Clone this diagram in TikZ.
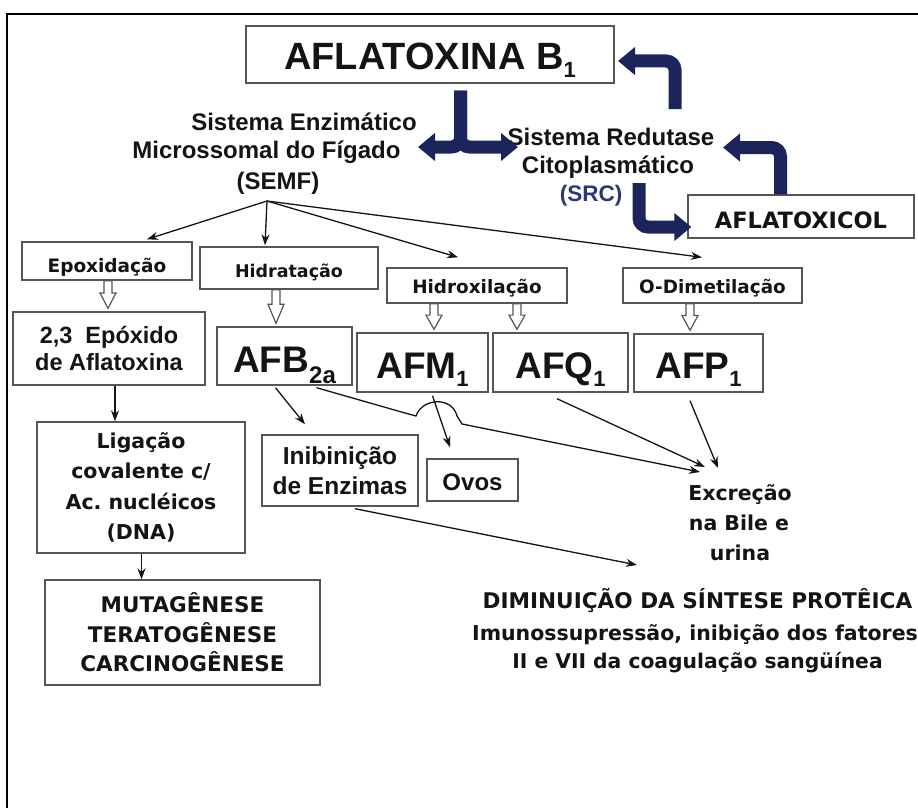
\documentclass[tikz,border=0pt]{standalone}
\usepackage{fontspec}
\setmainfont{Liberation Sans}
\newfontfamily\dv{DejaVu Sans}
\usetikzlibrary{arrows.meta,calc}
\definecolor{navy}{RGB}{28,36,92}
\definecolor{srcblue}{RGB}{45,55,120}
\definecolor{boxgray}{RGB}{85,85,85}
\definecolor{ink}{RGB}{20,20,20}
\newcommand\fsz[2]{\fontsize{#1}{#2}\selectfont}
\newcommand\subx[1]{\raisebox{-8pt}{\fontsize{22}{22}\selectfont #1}}
\newcommand\hollowdown[3]{%
  \path[hollow] let \p1=(#2), \p2=(#3), \n1={0.6*(\y1-\y2)} in
    ({#1pt-4pt},\y1) -- ({#1pt+4pt},\y1) -- ({#1pt+4pt},{\y2+\n1}) -- ({#1pt+8pt},{\y2+\n1})
    -- ({#1pt},{\y2+3pt}) -- ({#1pt-8pt},{\y2+\n1}) -- ({#1pt-4pt},{\y2+\n1}) -- cycle;}
\begin{document}
\begin{tikzpicture}[x=1pt,y=-1pt,
  box/.style={draw=boxgray, line width=1.4pt, fill=white, inner sep=0pt, text=ink},
  lbl/.style={inner sep=0pt, anchor=base, text=ink},
  conn/.style={draw=ink, line width=1.3pt, -{Stealth[length=11pt,width=8pt]}},
  navyarr/.style={draw=navy, line width=13pt, rounded corners=9pt, -{Triangle[length=17pt,width=27pt]}},
  hollow/.style={draw=boxgray, line width=1.2pt, fill=white},
]
\useasboundingbox (0,0) rectangle (918,808);
% frame
\draw[line width=2.5pt] (7,808) -- (7,14) -- (918,14);

% top box
\node[box, minimum width=368pt, minimum height=57pt, text height=31pt, text depth=0pt,
  font={\bfseries\fsz{38}{38}}] (b1) at (430,54.5) {AFLATOXINA B\subx{1}};

% side texts
\node[lbl, font={\bfseries\fsz{24}{24}}] (semf1) at (304,130) {Sistema Enzimático};
\node[lbl, font={\bfseries\fsz{24}{24}}] (semf2) at (266.5,158) {Microssomal do Fígado};
\node[lbl, font={\bfseries\fsz{24}{24}}] (semf3) at (278,189) {(SEMF)};
\node[lbl, font={\bfseries\fsz{24}{24}}] (src1) at (611,145) {Sistema Redutase};
\node[lbl, font={\bfseries\fsz{24}{24}}] (src2) at (608,173) {Citoplasmático};
\node[lbl, text=srcblue, font={\bfseries\fsz{22.5}{22.5}}] (src3) at (591,201) {(SRC)};

\node[box, minimum width=226pt, minimum height=43pt, text height=23pt, text depth=0pt,
  font={\bfseries\dv\fsz{22.5}{22.5}}] (toxicol) at (801,216.5) {AFLATOXICOL};

% navy arrows
\coordinate (semfin) at (418,147);
\coordinate (srcin) at (518,147);
\coordinate (b1in) at (618,61);
\coordinate (retst) at (675,109);
\coordinate (srcin2) at (723,147.5);
\coordinate (srcout) at (639,183);
\draw[navyarr] ([xshift=30.5pt,yshift=-7pt]b1.south) |- (semfin);
\draw[navyarr] ([xshift=30.5pt,yshift=-7pt]b1.south) |- (srcin);
\draw[navyarr] (retst) |- (b1in);
\draw[navyarr] ([xshift=-20.5pt]toxicol.north) |- (srcin2);
\draw[navyarr] (srcout) |- ([xshift=4pt,yshift=-10.5pt]toxicol.west);

% process boxes
\node[box, minimum width=170pt, minimum height=38pt, text height=22pt, text depth=0pt,
  font={\bfseries\dv\fsz{18.5}{18.5}}] (epox) at (107,261) {Epoxidação};
\node[box, minimum width=178pt, minimum height=42pt, text height=18pt, text depth=0pt,
  font={\bfseries\dv\fsz{17.5}{17.5}}] (hidrat) at (289,268) {Hidratação};
\node[box, minimum width=180pt, minimum height=35pt, text height=15pt, text depth=0pt,
  font={\bfseries\dv\fsz{18.4}{18.4}}] (hidrox) at (477,285.5) {Hidroxilação};
\node[box, minimum width=179pt, minimum height=35pt, text height=15pt, text depth=0pt,
  font={\bfseries\dv\fsz{18.4}{18.4}}] (odim) at (712.5,285.5) {O-Dimetilação};

% products
\node[box, minimum width=192pt, minimum height=73pt, align=center,
  font={\bfseries\fsz{23.5}{27}}] (epo23) at (109,348.5) {2,3\ \ Epóxido\\de Aflatoxina};
\node[box, minimum width=135pt, minimum height=58pt, text height=32pt, text depth=0pt,
  font={\bfseries\fsz{37}{37}}] (afb) at (284.5,356) {AFB\raisebox{-11pt}{\fontsize{24}{24}\selectfont 2a}};
\node[box, minimum width=131pt, minimum height=59pt, text height=31pt, text depth=0pt,
  font={\bfseries\fsz{37}{37}}] (afm) at (422.5,362.5) {AFM\subx{1}};
\node[box, minimum width=135pt, minimum height=59pt, text height=31pt, text depth=0pt,
  font={\bfseries\fsz{37}{37}}] (afq) at (560.5,362.5) {AFQ\subx{1}};
\node[box, minimum width=129pt, minimum height=58pt, text height=31pt, text depth=0pt,
  font={\bfseries\fsz{37}{37}}] (afp) at (698.5,363) {AFP\subx{1}};

% effects
\node[box, minimum width=208pt, minimum height=131pt, align=center,
  font={\bfseries\dv\fsz{20.5}{30.5}}] (lig) at (141,487.5) {Ligação\\covalente c/\\Ac.\ nucléicos\\(DNA)};
\node[box, minimum width=275pt, minimum height=105pt, align=center,
  font={\bfseries\dv\fsz{21.5}{29.5}}] (mut) at (182.5,632.5) {MUTAGÊNESE\\TERATOGÊNESE\\CARCINOGÊNESE};
\node[box, minimum width=156pt, minimum height=71pt, align=center,
  font={\bfseries\fsz{24.5}{30}}] (inib) at (340,470.5) {Inibinição\\de Enzimas};
\node[box, minimum width=91pt, minimum height=42pt, text height=20pt, text depth=0pt,
  font={\bfseries\fsz{24}{24}}] (ovos) at (472.5,480) {Ovos};

\node[lbl, font={\bfseries\dv\fsz{20.5}{20.5}}] (exc1) at (740,500) {Excreção};
\node[lbl, font={\bfseries\dv\fsz{20.5}{20.5}}] (exc2) at (739,530) {na Bile e};
\node[lbl, font={\bfseries\dv\fsz{20.5}{20.5}}] (exc3) at (740,560) {urina};

\node[lbl, font={\bfseries\dv\fsz{21.6}{21.6}}] (dim1) at (697.5,608) {DIMINUIÇÃO DA SÍNTESE PROTÊICA};
\node[lbl, font={\bfseries\dv\fsz{20.5}{20.5}}] (dim2) at (695,640) {Imunossupressão, inibição dos fatores};
\node[lbl, font={\bfseries\dv\fsz{20.3}{20.3}}] (dim3) at (697.5,668) {II e VII da coagulação sangüínea};

% hollow arrows
\hollowdown{108}{epox.south}{epo23.north}
\hollowdown{276}{hidrat.south}{afb.north}
\hollowdown{434}{hidrox.south}{afm.north}
\hollowdown{517}{hidrox.south}{afq.north}
\hollowdown{690}{odim.south}{afp.north}

% thin connectors
\coordinate (semfo) at (267,201);
\coordinate (excin1) at (700,472);
\coordinate (excin2) at (705,467);
\coordinate (excin3) at (718,468);
\coordinate (dimin) at (637,565);
\draw[conn] (semfo) -- ([xshift=40pt,yshift=2pt]epox.north);
\draw[conn] (semfo) -- ([xshift=-24pt,yshift=1pt]hidrat.north);
\draw[conn] (semfo) -- ([xshift=-19pt,yshift=10pt]hidrox.north);
\draw[conn] (semfo) -- ([xshift=-10.5pt,yshift=10pt]odim.north);
\draw[conn] ([xshift=6pt]epo23.south) -- ([xshift=-26pt]lig.north);
\draw[conn] ([xshift=0.5pt]lig.south) -- ([xshift=-41pt]mut.north);
\draw[conn] ([xshift=-9pt,yshift=-2pt]afb.south) -- ([xshift=-35pt,yshift=10pt]inib.north);
\draw[conn] ([xshift=10pt,yshift=-3pt]afm.south) -- ([xshift=-22.5pt,yshift=11pt]ovos.north);
\draw[conn] ([xshift=32pt,yshift=-2pt]afb.south) -- (405,413) -- (416,416)
   .. controls (422,398) and (452,396) .. (457,416) -- (462,424) -- (excin1);
\draw[conn] ([xshift=-3.5pt,yshift=-6pt]afq.south) -- (excin2);
\draw[conn] ([xshift=-8.5pt,yshift=-8pt]afp.south) -- (excin3);
\draw[conn] ([xshift=15pt,yshift=-2pt]inib.south) -- (dimin);
\end{tikzpicture}
\end{document}
